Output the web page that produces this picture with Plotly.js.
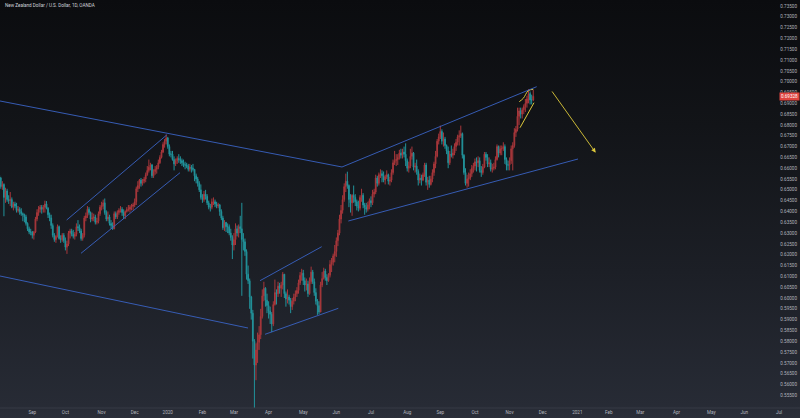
<!DOCTYPE html>
<html><head><meta charset="utf-8">
<script src="https://cdn.plot.ly/plotly-3.0.1.min.js"></script>
<style>
html,body{margin:0;padding:0;width:800px;height:418px;overflow:hidden;}
body{background:linear-gradient(to bottom,#0b0c0f 0%,#121418 30%,#1c1f26 65%,#272b35 97%,#2a2e39 100%);}
#chart{width:800px;height:418px;}
</style></head><body><div id="chart"></div>
<script>
// NZD/USD daily, OANDA — Aug 2019 .. Nov 2020 (open = previous close)
const firstOpen = 0.6580;
const closeP = [
 .6568,.6555,.6515,.6525,.6465,.6495,.6455,.6450,.6455,.6420,.6435,.6425,.6405,.6410,.6400,.6390,.6385,.6375,.6345,.6320,.6305,.6305,
 .6290,.6305,.6365,.6395,.6410,.6420,.6410,.6420,.6435,.6415,.6385,.6370,.6335,.6290,.6270,.6285,.6330,.6275,.6270,.6290,.6265,
 .6235,.6250,.6300,.6310,.6295,.6285,.6295,.6330,.6325,.6310,.6275,.6290,.6370,.6380,.6410,.6395,.6365,.6370,.6375,.6350,.6355,.6390,.6420,
 .6425,.6440,.6395,.6365,.6375,.6345,.6335,.6320,.6390,.6375,.6395,.6405,.6410,.6395,.6380,.6400,.6410,.6410,.6420,.6425,.6430,
 .6445,.6505,.6520,.6545,.6530,.6540,.6550,.6570,.6590,.6605,.6615,.6565,.6585,.6595,.6605,.6625,.6650,.6675,.6710,.6725,.6740,
 .6700,.6665,.6665,.6640,.6620,.6635,.6645,.6640,.6635,.6625,.6615,.6615,.6610,.6595,.6605,.6600,.6595,.6565,.6550,.6530,.6500,.6465,
 .6455,.6480,.6470,.6440,.6420,.6420,.6445,.6445,.6435,.6425,.6430,.6400,.6370,.6325,.6350,.6330,.6330,.6300,.6280,.6245,
 .6270,.6320,.6300,.6330,.6320,.6270,.6260,.6215,.6110,.6080,.6005,.5930,.5800,.5690,.5760,.5795,.5830,.5915,.6010,.6045,.5990,.5965,
 .5940,.5925,.5880,.5970,.6025,.6020,.6055,.6045,.6060,.6110,.6020,.5995,.6005,.5990,.5960,.5985,.6005,.6020,.6035,.6070,.6105,.6115,
 .6080,.6060,.6065,.6020,.6075,.6120,.6075,.6025,.5985,.5965,.5935,.6060,.6090,.6125,.6095,.6080,.6105,.6155,.6165,.6195,.6215,
 .6265,.6300,.6365,.6405,.6455,.6515,.6540,.6520,.6455,.6440,.6475,.6465,.6445,.6425,.6415,.6465,.6475,.6430,.6420,.6410,.6430,.6450,
 .6440,.6480,.6490,.6555,.6530,.6570,.6575,.6565,.6545,.6560,.6570,.6540,.6545,.6580,.6625,.6635,.6640,.6650,.6670,.6660,.6675,.6665,.6635,
 .6600,.6610,.6655,.6670,.6605,.6610,.6585,.6545,.6555,.6545,.6570,.6615,.6535,.6545,.6525,.6550,.6580,.6620,.6655,.6725,.6745,
 .6770,.6725,.6735,.6705,.6680,.6625,.6665,.6660,.6670,.6700,.6720,.6745,.6750,.6760,.6660,.6580,.6530,.6550,.6555,.6575,.6600,.6610,
 .6630,.6625,.6635,.6590,.6580,.6605,.6665,.6650,.6620,.6625,.6595,.6600,.6605,.6640,.6700,.6670,.6690,.6690,.6700,.6640,.6615,.6615,
 .6635,.6690,.6705,.6765,.6780,.6840,.6865,.6850,.6870,.6885,.6900,.6920,.6945,.6915,.6915,.69328
];
const highP = [
 .6600,.6585,.6560,.6540,.6530,.6510,.6505,.6475,.6490,.6465,.6445,.6445,.6440,.6425,.6420,.6415,.6395,.6390,.6385,.6350,.6330,.6320,
 .6310,.6310,.6375,.6410,.6425,.6430,.6430,.6430,.6450,.6448,.6420,.6395,.6385,.6345,.6300,.6290,.6340,.6335,.6290,.6300,.6300,
 .6280,.6265,.6310,.6320,.6320,.6315,.6305,.6345,.6360,.6340,.6320,.6300,.6380,.6395,.6425,.6420,.6400,.6395,.6390,.6385,.6370,.6400,.6430,
 .6445,.6455,.6460,.6405,.6400,.6385,.6360,.6350,.6400,.6400,.6405,.6415,.6425,.6420,.6410,.6405,.6420,.6430,.6430,.6435,.6440,
 .6460,.6515,.6540,.6550,.6555,.6550,.6560,.6580,.6610,.6640,.6625,.6620,.6595,.6610,.6615,.6640,.6660,.6685,.6720,.6735,.6756,
 .6745,.6710,.6680,.6680,.6655,.6645,.6655,.6665,.6655,.6645,.6640,.6630,.6625,.6620,.6620,.6615,.6620,.6595,.6575,.6560,.6540,.6525,
 .6480,.6495,.6500,.6480,.6450,.6435,.6460,.6465,.6455,.6445,.6440,.6435,.6410,.6380,.6360,.6350,.6345,.6340,.6320,.6290,
 .6300,.6345,.6335,.6340,.6380,.6440,.6300,.6275,.6225,.6150,.6090,.6010,.5945,.5810,.5790,.5840,.5870,.5950,.6040,.6075,.6050,.6020,
 .5985,.5960,.5935,.5985,.6085,.6040,.6075,.6070,.6075,.6120,.6110,.6030,.6040,.6015,.6000,.6000,.6020,.6035,.6050,.6085,.6120,.6135,
 .6130,.6095,.6090,.6080,.6095,.6145,.6130,.6090,.6045,.5995,.5985,.6075,.6120,.6140,.6135,.6110,.6115,.6175,.6185,.6205,.6245,
 .6280,.6315,.6385,.6430,.6475,.6530,.6575,.6584,.6525,.6480,.6480,.6520,.6480,.6455,.6450,.6475,.6505,.6485,.6440,.6440,.6445,.6460,
 .6470,.6500,.6505,.6570,.6565,.6580,.6595,.6590,.6585,.6570,.6590,.6575,.6560,.6595,.6640,.6680,.6665,.6665,.6685,.6690,.6690,.6700,.6715,
 .6645,.6630,.6690,.6700,.6675,.6625,.6640,.6595,.6575,.6570,.6580,.6625,.6625,.6560,.6565,.6565,.6595,.6630,.6680,.6735,.6760,
 .6797,.6780,.6765,.6745,.6710,.6700,.6680,.6705,.6690,.6715,.6735,.6755,.6775,.6797,.6765,.6665,.6600,.6570,.6580,.6595,.6615,.6625,
 .6645,.6650,.6655,.6650,.6610,.6620,.6675,.6675,.6665,.6650,.6640,.6620,.6625,.6655,.6710,.6705,.6705,.6705,.6720,.6710,.6650,.6635,
 .6650,.6705,.6720,.6785,.6795,.6880,.6880,.6880,.6880,.6895,.6920,.6935,.6965,.6955,.6940,.6962
];
const lowP = [
 .6555,.6535,.6505,.6500,.6378,.6440,.6445,.6435,.6425,.6415,.6405,.6415,.6395,.6395,.6385,.6380,.6355,.6350,.6335,.6310,.6295,.6290,
 .6275,.6270,.6300,.6355,.6380,.6395,.6390,.6395,.6395,.6410,.6370,.6355,.6320,.6280,.6260,.6255,.6280,.6270,.6255,.6260,.6255,
 .6220,.6204,.6240,.6275,.6285,.6275,.6270,.6285,.6310,.6300,.6265,.6265,.6280,.6355,.6370,.6385,.6350,.6355,.6355,.6340,.6340,.6345,.6380,
 .6405,.6410,.6385,.6355,.6355,.6335,.6320,.6315,.6318,.6365,.6365,.6385,.6395,.6380,.6365,.6365,.6395,.6400,.6395,.6405,.6405,
 .6420,.6430,.6490,.6505,.6515,.6520,.6530,.6535,.6565,.6580,.6590,.6555,.6555,.6570,.6575,.6595,.6620,.6645,.6670,.6695,.6710,
 .6690,.6655,.6650,.6635,.6590,.6610,.6620,.6625,.6620,.6610,.6605,.6595,.6600,.6585,.6585,.6580,.6585,.6540,.6530,.6515,.6490,.6455,
 .6440,.6445,.6455,.6430,.6410,.6400,.6410,.6430,.6420,.6415,.6415,.6380,.6360,.6315,.6310,.6305,.6300,.6290,.6265,.6180,
 .6220,.6245,.6285,.6280,.6300,.6010,.6220,.6195,.6085,.6065,.5950,.5900,.5720,.5469,.5620,.5700,.5760,.5810,.5905,.5985,.5960,.5930,
 .5905,.5880,.5842,.5870,.5965,.5970,.6005,.6020,.6005,.6040,.6000,.5960,.5975,.5970,.5930,.5945,.5970,.5985,.6005,.6020,.6060,.6080,
 .6060,.6030,.6035,.6005,.6015,.6065,.6065,.6010,.5970,.5922,.5925,.5935,.6050,.6085,.6080,.6060,.6075,.6095,.6120,.6150,.6165,
 .6190,.6240,.6290,.6345,.6390,.6445,.6490,.6505,.6420,.6395,.6380,.6440,.6425,.6405,.6400,.6405,.6445,.6415,.6385,.6395,.6400,.6410,
 .6420,.6430,.6465,.6480,.6515,.6520,.6555,.6535,.6535,.6525,.6550,.6525,.6520,.6535,.6570,.6615,.6610,.6615,.6640,.6645,.6645,.6650,.6610,
 .6585,.6580,.6600,.6640,.6590,.6580,.6570,.6520,.6530,.6520,.6540,.6560,.6520,.6500,.6510,.6520,.6535,.6565,.6600,.6650,.6710,
 .6735,.6710,.6700,.6690,.6665,.6600,.6615,.6650,.6645,.6660,.6680,.6705,.6705,.6740,.6645,.6570,.6520,.6510,.6515,.6545,.6560,.6580,
 .6590,.6585,.6605,.6580,.6560,.6570,.6600,.6635,.6605,.6605,.6585,.6580,.6590,.6595,.6635,.6650,.6660,.6660,.6680,.6620,.6590,.6590,
 .6590,.6620,.6590,.6695,.6745,.6770,.6800,.6830,.6830,.6850,.6860,.6880,.6900,.6895,.6895,.6910
];
const firstBarDate = '2019-08-01';
const holidays = ['2019-12-25','2020-01-01','2020-12-25','2021-01-01'];
const tickDates = ['2019-09-02','2019-10-01','2019-11-01','2019-12-02','2020-01-02','2020-02-03','2020-03-02','2020-04-01','2020-05-01','2020-06-01','2020-07-01','2020-08-03','2020-09-01','2020-10-01','2020-11-02','2020-12-01','2021-01-04','2021-02-01','2021-03-01','2021-04-01','2021-05-03','2021-06-01','2021-07-01'];
const tickLabels = ['Sep','Oct','Nov','Dec','2020','Feb','Mar','Apr','May','Jun','Jul','Aug','Sep','Oct','Nov','Dec','2021','Feb','Mar','Apr','May','Jun','Jul'];
const xRange = ['2019-08-02 12:00','2021-07-20 08:00'];
const yRange = [0.54915, 0.73777];
const titleText = 'New Zealand Dollar / U.S. Dollar, 1D, OANDA';
// drawings (date, price)
const blueLines = [
 [['2019-08-02 12:00',0.69108],['2020-06-04 14:24',0.66057]],
 [['2019-08-02 12:00',0.61017],['2020-03-12 22:19',0.58613]],
 [['2019-10-01 20:10',0.63606],['2019-12-31 07:40',0.67536]],
 [['2019-10-14 21:50',0.62067],['2020-01-13 18:14',0.65793]],
 [['2020-03-24 13:00',0.60800],['2020-05-18 17:02',0.62372]],
 [['2020-03-27 17:17',0.58322],['2020-06-02 06:00',0.59524]],
 [['2020-06-04 14:24',0.66057],['2020-11-25 04:34',0.69769]],
 [['2020-06-10 14:24',0.63560],['2021-01-04 09:50',0.66426]]
];
const yellowUpperX = ['2020-11-10 03:36','2020-11-12 16:33','2020-11-17 20:38','2020-11-23 00:43'];
const yellowUpperY = [0.69077,0.69233,0.69584,0.69649];
const yellowLowerX = ['2020-11-10 14:10','2020-11-23 11:31'];
const yellowLowerY = [0.67873,0.69029];
const arrowFrom = ['2020-12-08 06:29',0.69617];
const arrowTo = ['2021-01-19 15:36',0.66717];

// trading calendar (weekdays minus holidays)
function tradingDays(start, n){
  const out=[]; const d=new Date(start+'T00:00:00Z');
  while(out.length<n){
    const s=d.toISOString().slice(0,10); const w=d.getUTCDay();
    if(w!==0&&w!==6&&holidays.indexOf(s)<0) out.push(s);
    d.setUTCDate(d.getUTCDate()+1);
  }
  return out;
}
const dates = tradingDays(firstBarDate, closeP.length);
const openP = closeP.map((c,i)=> i===0 ? firstOpen : closeP[i-1]);

const UP='#a8373b', DOWN='#22939b', BLUE='#3a63c4', YEL='#ddc83a';
const FONT='Roboto, Liberation Sans, sans-serif';
const traces = [{
  type:'candlestick', x:dates, open:openP, high:highP, low:lowP, close:closeP,
  increasing:{line:{color:UP,width:1},fillcolor:UP},
  decreasing:{line:{color:DOWN,width:1},fillcolor:DOWN},
  whiskerwidth:0, hoverinfo:'skip', showlegend:false
},{
  type:'scatter', mode:'lines', x:yellowUpperX, y:yellowUpperY, line:{color:YEL,width:1,shape:'spline'}, hoverinfo:'skip', showlegend:false
},{
  type:'scatter', mode:'lines', x:yellowLowerX, y:yellowLowerY, line:{color:YEL,width:1}, hoverinfo:'skip', showlegend:false
}];
const shapes = blueLines.map(l=>({type:'line',xref:'x',yref:'y',x0:l[0][0],y0:l[0][1],x1:l[1][0],y1:l[1][1],line:{color:BLUE,width:0.9}}));
shapes.push({type:'line',xref:'paper',yref:'paper',x0:0,x1:1,y0:0,y1:0,line:{color:'#363a45',width:1}});
const lastClose = closeP[closeP.length-1];
const lastUp = lastClose >= openP[openP.length-1];
const annotations = [
 {xref:'paper',yref:'paper',x:0.004,y:0.998,xanchor:'left',yanchor:'top',showarrow:false,text:titleText,font:{family:FONT,size:4.6,color:'#d1d4dc'}},
 {xref:'x',yref:'y',x:arrowTo[0],y:arrowTo[1],axref:'x',ayref:'y',ax:arrowFrom[0],ay:arrowFrom[1],showarrow:true,arrowcolor:YEL,arrowwidth:0.9,arrowhead:2,arrowsize:1,text:''},
 {xref:'paper',yref:'y',x:1,y:lastClose,xanchor:'right',yanchor:'middle',showarrow:false,text:lastClose.toFixed(5),bgcolor:lastUp?'#e0443f':DOWN,borderpad:1,font:{family:FONT,size:4.6,color:'#ffffff'}}
];
const layout = {
  width:800,height:418,margin:{l:0,r:0,t:0,b:10},
  paper_bgcolor:'rgba(0,0,0,0)',plot_bgcolor:'rgba(0,0,0,0)',
  showlegend:false,dragmode:false,
  xaxis:{type:'date',range:xRange,rangebreaks:[{bounds:['sat','mon']},{values:holidays}],
    rangeslider:{visible:false},showgrid:false,zeroline:false,showline:false,ticks:'',
    tickmode:'array',tickvals:tickDates,ticktext:tickLabels,
    tickfont:{family:FONT,size:4.6,color:'#b2b5be'},fixedrange:true},
  yaxis:{range:yRange,side:'right',ticklabelposition:'inside',tick0:0.55,dtick:0.005,tickformat:'.5f',
    showgrid:false,zeroline:false,showline:false,ticks:'',
    tickfont:{family:FONT,size:4.6,color:'#b2b5be'},fixedrange:true},
  shapes:shapes,annotations:annotations
};
Plotly.newPlot('chart',traces,layout,{staticPlot:true,displayModeBar:false});
</script></body></html>
